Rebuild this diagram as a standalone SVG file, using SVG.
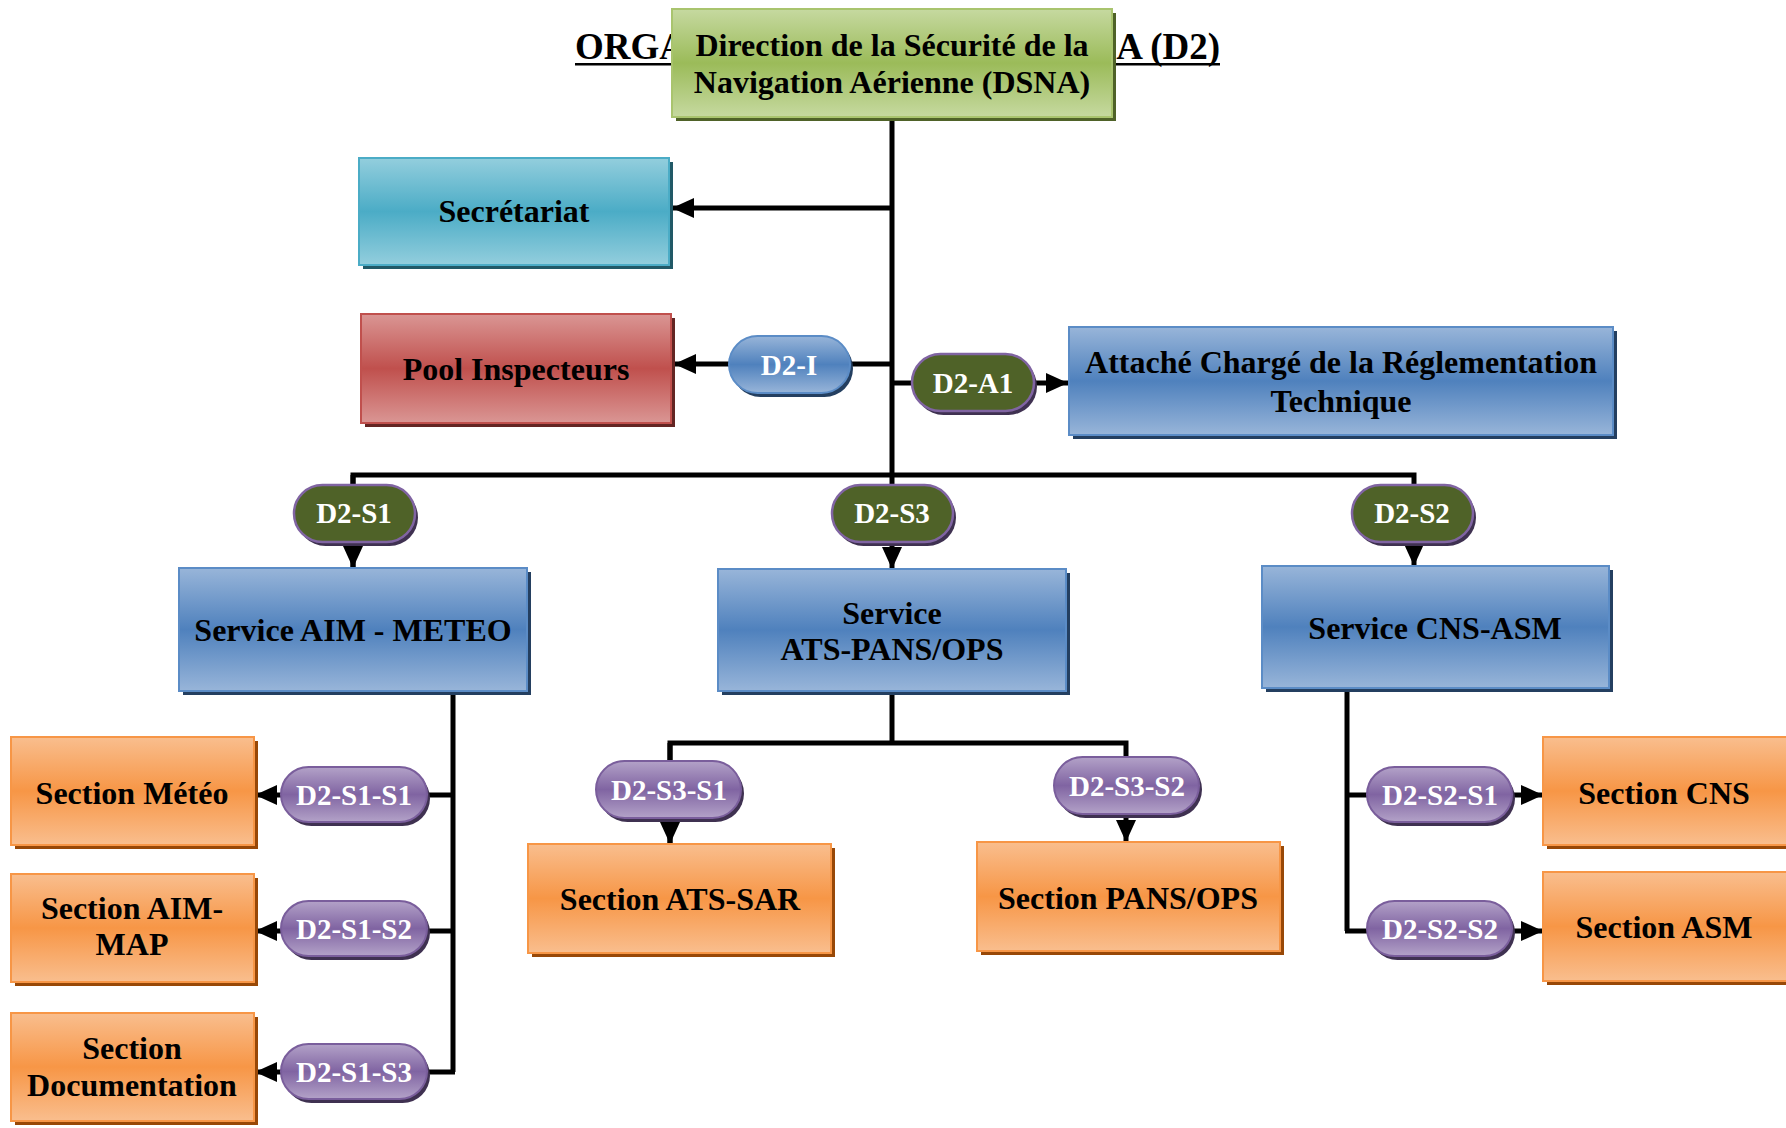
<svg xmlns="http://www.w3.org/2000/svg" width="1786" height="1128" viewBox="0 0 1786 1128">
<defs>
<linearGradient id="gGreen" x1="0" y1="0" x2="0" y2="1"><stop offset="0" stop-color="#C6D9A0"/><stop offset="0.5" stop-color="#9BBB59"/><stop offset="1" stop-color="#C6D9A0"/></linearGradient>
<linearGradient id="gTeal" x1="0" y1="0" x2="0" y2="1"><stop offset="0" stop-color="#93CEDD"/><stop offset="0.5" stop-color="#4BACC6"/><stop offset="1" stop-color="#93CEDD"/></linearGradient>
<linearGradient id="gRed" x1="0" y1="0" x2="0" y2="1"><stop offset="0" stop-color="#DA9694"/><stop offset="0.5" stop-color="#C0504D"/><stop offset="1" stop-color="#DA9694"/></linearGradient>
<linearGradient id="gBlue" x1="0" y1="0" x2="0" y2="1"><stop offset="0" stop-color="#98B5D9"/><stop offset="0.5" stop-color="#4F81BD"/><stop offset="1" stop-color="#98B5D9"/></linearGradient>
<linearGradient id="gOrange" x1="0" y1="0" x2="0" y2="1"><stop offset="0" stop-color="#F9BE8E"/><stop offset="0.5" stop-color="#F79646"/><stop offset="1" stop-color="#F9BE8E"/></linearGradient>
<linearGradient id="gPurple" x1="0" y1="0" x2="0" y2="1"><stop offset="0" stop-color="#B3A2C8"/><stop offset="0.5" stop-color="#8064A2"/><stop offset="1" stop-color="#B3A2C8"/></linearGradient>
<marker id="arr" markerUnits="userSpaceOnUse" markerWidth="22" markerHeight="22" viewBox="0 0 22 22" refX="22" refY="11" orient="auto"><path d="M0,1 L22,11 L0,21 Z" fill="#000"/></marker>
</defs>
<style>
.t{font-family:"Liberation Serif","Times New Roman",serif;font-weight:bold;font-size:32px;fill:#000;text-anchor:middle}
.p{font-family:"Liberation Serif","Times New Roman",serif;font-weight:bold;font-size:29px;fill:#fff;text-anchor:middle}
.title{font-family:"Liberation Serif","Times New Roman",serif;font-weight:bold;font-size:37px;fill:#000}
.c{fill:none;stroke:#000;stroke-width:5}
.green{fill:url(#gGreen);stroke:#A9C46E;stroke-width:2}
.teal{fill:url(#gTeal);stroke:#4BACC6;stroke-width:2}
.red{fill:url(#gRed);stroke:#C0504D;stroke-width:2}
.blue{fill:url(#gBlue);stroke:#5B8CC6;stroke-width:2}
.orange{fill:url(#gOrange);stroke:#F79646;stroke-width:2}
.purple{fill:url(#gPurple);stroke:#7A5E9C;stroke-width:2}
.olive{fill:#4F6228;stroke:#8064A2;stroke-width:2.5}
</style>
<rect width="1786" height="1128" fill="#fff"/>
<g id="title">
<text class="title" x="575" y="59">ORGA</text>
<text class="title" x="1220" y="59" text-anchor="end">A (D2)</text>
<rect x="575" y="63" width="645" height="2.5" fill="#000"/>
</g>
<g id="connectors">
<path class="c" d="M892,117 V475"/>
<path class="c" d="M892,208 H672" marker-end="url(#arr)"/>
<path class="c" d="M892,364 H674" marker-end="url(#arr)"/>
<path class="c" d="M892,383 H1068" marker-end="url(#arr)"/>
<path class="c" d="M353,568 V475 H1414 V566" marker-end="url(#arr)"/>
<path class="c" d="M353,475 V568" marker-end="url(#arr)"/>
<path class="c" d="M892,475 V569" marker-end="url(#arr)"/>
<path class="c" d="M453,691 V1072"/>
<path class="c" d="M455,795 H255" marker-end="url(#arr)"/>
<path class="c" d="M455,931 H255" marker-end="url(#arr)"/>
<path class="c" d="M455,1072 H255" marker-end="url(#arr)"/>
<path class="c" d="M892,691 V743"/>
<path class="c" d="M670,844 V743 H1126 V842" marker-end="url(#arr)"/>
<path class="c" d="M670,743 V844" marker-end="url(#arr)"/>
<path class="c" d="M1347,688 V931"/>
<path class="c" d="M1345,795 H1543" marker-end="url(#arr)"/>
<path class="c" d="M1345,931 H1543" marker-end="url(#arr)"/>
</g>
<g id="dsna">
<rect x="676" y="13" width="440" height="108" fill="#4F6228"/>
<rect class="green" x="672" y="9" width="440" height="108"/>
<text class="t" x="892" y="56">Direction de la Sécurité de la</text>
<text class="t" x="892" y="93">Navigation Aérienne (DSNA)</text>
</g>
<g id="secretariat">
<rect x="363" y="162" width="310" height="107" fill="#215967"/>
<rect class="teal" x="359" y="158" width="310" height="107"/>
<text class="t" x="514" y="222">Secrétariat</text>
</g>
<g id="pool">
<rect x="365" y="318" width="310" height="109" fill="#632523"/>
<rect class="red" x="361" y="314" width="310" height="109"/>
<text class="t" x="516" y="380">Pool Inspecteurs</text>
</g>
<g id="d2-i">
<rect x="732" y="340" width="121" height="57" rx="28.5" fill="#243F60"/>
<rect class="blue" x="729" y="336" width="121" height="57" rx="28.5"/>
<text class="p" x="789" y="375">D2-I</text>
</g>
<g id="d2-a1">
<rect x="915" y="358" width="122" height="57" rx="28.5" fill="#3F3151"/>
<rect class="olive" x="912" y="354" width="122" height="57" rx="28.5"/>
<text class="p" x="973" y="393">D2-A1</text>
</g>
<g id="attache">
<rect x="1073" y="331" width="544" height="108" fill="#243F60"/>
<rect class="blue" x="1069" y="327" width="544" height="108"/>
<text class="t" x="1341" y="373">Attaché Chargé de la Réglementation</text>
<text class="t" x="1341" y="412">Technique</text>
</g>
<g id="d2-s1">
<rect x="297" y="489" width="121" height="57" rx="28.5" fill="#3F3151"/>
<rect class="olive" x="294" y="485" width="121" height="57" rx="28.5"/>
<text class="p" x="354" y="523">D2-S1</text>
</g>
<g id="d2-s3">
<rect x="835" y="489" width="121" height="57" rx="28.5" fill="#3F3151"/>
<rect class="olive" x="832" y="485" width="121" height="57" rx="28.5"/>
<text class="p" x="892" y="523">D2-S3</text>
</g>
<g id="d2-s2">
<rect x="1355" y="489" width="121" height="57" rx="28.5" fill="#3F3151"/>
<rect class="olive" x="1352" y="485" width="121" height="57" rx="28.5"/>
<text class="p" x="1412" y="523">D2-S2</text>
</g>
<g id="service-aim">
<rect x="183" y="572" width="348" height="123" fill="#243F60"/>
<rect class="blue" x="179" y="568" width="348" height="123"/>
<text class="t" x="353" y="641">Service AIM - METEO</text>
</g>
<g id="service-ats">
<rect x="722" y="573" width="348" height="122" fill="#243F60"/>
<rect class="blue" x="718" y="569" width="348" height="122"/>
<text class="t" x="892" y="624">Service</text>
<text class="t" x="892" y="660">ATS-PANS/OPS</text>
</g>
<g id="service-cns">
<rect x="1266" y="570" width="347" height="122" fill="#243F60"/>
<rect class="blue" x="1262" y="566" width="347" height="122"/>
<text class="t" x="1435" y="639">Service CNS-ASM</text>
</g>
<g id="d2-s1-s1">
<rect x="284" y="771" width="146" height="55" rx="27.5" fill="#3F3151"/>
<rect class="purple" x="281" y="767" width="146" height="55" rx="27.5"/>
<text class="p" x="354" y="805">D2-S1-S1</text>
</g>
<g id="d2-s1-s2">
<rect x="284" y="905" width="146" height="55" rx="27.5" fill="#3F3151"/>
<rect class="purple" x="281" y="901" width="146" height="55" rx="27.5"/>
<text class="p" x="354" y="939">D2-S1-S2</text>
</g>
<g id="d2-s1-s3">
<rect x="284" y="1048" width="146" height="55" rx="27.5" fill="#3F3151"/>
<rect class="purple" x="281" y="1044" width="146" height="55" rx="27.5"/>
<text class="p" x="354" y="1082">D2-S1-S3</text>
</g>
<g id="d2-s3-s1">
<rect x="599" y="765" width="145" height="57" rx="28.5" fill="#3F3151"/>
<rect class="purple" x="596" y="761" width="145" height="57" rx="28.5"/>
<text class="p" x="669" y="800">D2-S3-S1</text>
</g>
<g id="d2-s3-s2">
<rect x="1057" y="761" width="145" height="57" rx="28.5" fill="#3F3151"/>
<rect class="purple" x="1054" y="757" width="145" height="57" rx="28.5"/>
<text class="p" x="1127" y="796">D2-S3-S2</text>
</g>
<g id="d2-s2-s1">
<rect x="1370" y="771" width="145" height="55" rx="27.5" fill="#3F3151"/>
<rect class="purple" x="1367" y="767" width="145" height="55" rx="27.5"/>
<text class="p" x="1440" y="805">D2-S2-S1</text>
</g>
<g id="d2-s2-s2">
<rect x="1370" y="905" width="145" height="55" rx="27.5" fill="#3F3151"/>
<rect class="purple" x="1367" y="901" width="145" height="55" rx="27.5"/>
<text class="p" x="1440" y="939">D2-S2-S2</text>
</g>
<g id="section-meteo">
<rect x="15" y="741" width="243" height="108" fill="#984807"/>
<rect class="orange" x="11" y="737" width="243" height="108"/>
<text class="t" x="132" y="804">Section Météo</text>
</g>
<g id="section-aim-map">
<rect x="15" y="878" width="243" height="108" fill="#984807"/>
<rect class="orange" x="11" y="874" width="243" height="108"/>
<text class="t" x="132" y="919">Section AIM-</text>
<text class="t" x="132" y="955">MAP</text>
</g>
<g id="section-documentation">
<rect x="15" y="1017" width="243" height="108" fill="#984807"/>
<rect class="orange" x="11" y="1013" width="243" height="108"/>
<text class="t" x="132" y="1059">Section</text>
<text class="t" x="132" y="1096">Documentation</text>
</g>
<g id="section-ats-sar">
<rect x="532" y="848" width="303" height="109" fill="#984807"/>
<rect class="orange" x="528" y="844" width="303" height="109"/>
<text class="t" x="680" y="910">Section ATS-SAR</text>
</g>
<g id="section-pans-ops">
<rect x="981" y="846" width="303" height="109" fill="#984807"/>
<rect class="orange" x="977" y="842" width="303" height="109"/>
<text class="t" x="1128" y="909">Section PANS/OPS</text>
</g>
<g id="section-cns">
<rect x="1547" y="741" width="250" height="108" fill="#984807"/>
<rect class="orange" x="1543" y="737" width="250" height="108"/>
<text class="t" x="1664" y="804">Section CNS</text>
</g>
<g id="section-asm">
<rect x="1547" y="876" width="250" height="109" fill="#984807"/>
<rect class="orange" x="1543" y="872" width="250" height="109"/>
<text class="t" x="1664" y="938">Section ASM</text>
</g>
</svg>
